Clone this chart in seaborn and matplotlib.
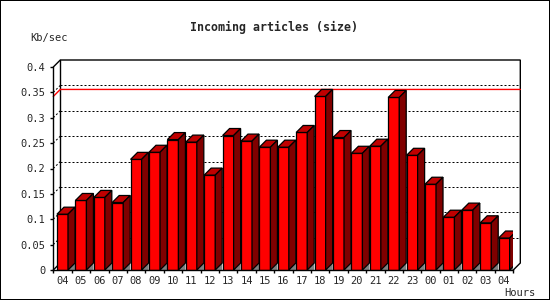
import numpy as np
import pandas as pd
import matplotlib
matplotlib.use("Agg")
import matplotlib.pyplot as plt
import seaborn as sns
from matplotlib.patches import Polygon, Rectangle

# ---------------- data ----------------
hours = ["04", "05", "06", "07", "08", "09", "10", "11", "12", "13", "14", "15",
         "16", "17", "18", "19", "20", "21", "22", "23", "00", "01", "02", "03", "04"]
kb_per_sec = [0.110, 0.137, 0.143, 0.133, 0.218, 0.232, 0.257, 0.252, 0.187, 0.265,
              0.254, 0.242, 0.242, 0.271, 0.342, 0.261, 0.230, 0.244, 0.340, 0.226,
              0.169, 0.104, 0.118, 0.093, 0.063]
y_ticks = [0, 0.05, 0.1, 0.15, 0.2, 0.25, 0.3, 0.35, 0.4]
y_tick_labels = ["0", "0.05", "0.1", "0.15", "0.2", "0.25", "0.3", "0.35", "0.4"]
title = "Incoming articles (size)"
y_label = "Kb/sec"
x_label = "Hours"

# ---------------- style ----------------
sns.set_style("white")
plt.rcParams["font.family"] = ["DejaVu Sans Mono"]

FRONT = "#ff0000"
TOP = "#c00000"
SIDE = "#800000"
FLOOR = "#808080"
PX = 0.72  # one pixel in points at dpi 100

W, H = 550, 300
fig = plt.figure(figsize=(W / 100, H / 100), dpi=100)
fig.patch.set_facecolor("white")

ax_l, ax_r, ax_b, ax_t = 53.3, 513.3, 270.0, 67.0
ax = fig.add_axes([ax_l / W, (H - ax_b) / H, (ax_r - ax_l) / W, (ax_b - ax_t) / H])
ax.set_facecolor("none")

df = pd.DataFrame({"slot": np.arange(len(hours)), "value": kb_per_sec})
sns.barplot(data=df, x="slot", y="value", width=0.6, color=FRONT, saturation=1,
            edgecolor="black", linewidth=0.9, ax=ax, zorder=3)

n = len(hours)
ax.set_xlim(-0.5, n - 0.5)
ax.set_ylim(y_ticks[0], y_ticks[-1])

# 3-D depth in data units (7 px each way)
dx = 7.0 / ((ax_r - ax_l) / n)
dy = 7.0 / ((ax_b - ax_t) / (y_ticks[-1] - y_ticks[0]))

# bar tops, sides and floor shading built from the seaborn bars
for p in list(ax.patches):
    x0, w, h = p.get_x(), p.get_width(), p.get_height()
    ax.add_patch(Polygon([(x0 + w, 0), (x0 + w + dx, dy), (x0 + w + dx, 0)],
                         closed=True, facecolor=FLOOR, edgecolor="none", zorder=2))
    ax.add_patch(Polygon([(x0, h), (x0 + dx, h + dy), (x0 + w + dx, h + dy), (x0 + w, h)],
                         closed=True, facecolor=TOP, edgecolor="black", linewidth=0.9, zorder=3))
    ax.add_patch(Polygon([(x0 + w, 0), (x0 + w, h), (x0 + w + dx, h + dy), (x0 + w + dx, dy)],
                         closed=True, facecolor=SIDE, edgecolor="black", linewidth=0.9, zorder=3))

xl, xr = -0.5, n - 0.5
ytop = y_ticks[-1]
# back wall grid lines (dotted) and small diagonal connectors
for v in y_ticks[1:-1]:
    ax.plot([xl + dx, xr + dx], [v + dy, v + dy], color="black", lw=PX,
            ls=(0, (2, 2)), clip_on=False, zorder=1)
    ax.plot([xl, xl + dx], [v, v + dy], color="black", lw=PX,
            ls=(0, (2, 2)), clip_on=False, zorder=1)
# back wall frame
ax.plot([xl, xl + dx, xr + dx, xr + dx, xr], [ytop, ytop + dy, ytop + dy, dy, 0],
        color="black", lw=1.0, clip_on=False, zorder=1, solid_joinstyle="miter")
ax.plot([xl + dx, xl + dx], [dy, ytop + dy], color="black", lw=1.0, clip_on=False, zorder=1)
ax.plot([xl, xl + dx], [0, dy], color="black", lw=1.0, clip_on=False, zorder=1)
# maximum line on the back wall
m = max(kb_per_sec)
ax.plot([xl, xl + dx, xr + dx], [m, m + dy, m + dy], color="#ff0000", lw=1.0,
        clip_on=False, zorder=1)

# spines
for s in ["top", "right"]:
    ax.spines[s].set_visible(False)
for s in ["left", "bottom"]:
    ax.spines[s].set_visible(True)
    ax.spines[s].set_color("black")
    ax.spines[s].set_linewidth(1.0)
    ax.spines[s].set_zorder(4)

# y ticks
ax.set_yticks(y_ticks)
ax.set_yticklabels(y_tick_labels)
ax.tick_params(axis="y", which="major", direction="out", length=3 * PX, width=1.0,
               color="black", pad=3.6, labelsize=7.5, left=True)
# x ticks: marks at slot boundaries, labels at slot centres
ax.set_xticks(np.arange(-0.5, n, 1.0))
ax.set_xticklabels([""] * (n + 1))
ax.set_xticks(np.arange(n), minor=True)
ax.set_xticklabels(hours, minor=True)
ax.tick_params(axis="x", which="major", direction="out", length=3 * PX, width=1.0,
               color="black", bottom=True)
ax.tick_params(axis="x", which="minor", length=0, pad=4.3, labelsize=7.5, bottom=True)
ax.set_xlabel("")
ax.set_ylabel("")
ax.grid(False)

# texts
fig.text(273.5 / W, 1 - 31 / H, title, ha="center", va="baseline",
         fontsize=8.4, fontweight="bold")
fig.text(30 / W, 1 - 41 / H, y_label, ha="left", va="baseline", fontsize=7.5)
fig.text(504 / W, 1 - 296.5 / H, x_label, ha="left", va="baseline", fontsize=7.5)

# image border
fig.patches.append(Rectangle((0, 0), 1, 1, transform=fig.transFigure, fill=False,
                             edgecolor="black", linewidth=2 * PX, zorder=10))

fig.savefig("out.png", dpi=100)
